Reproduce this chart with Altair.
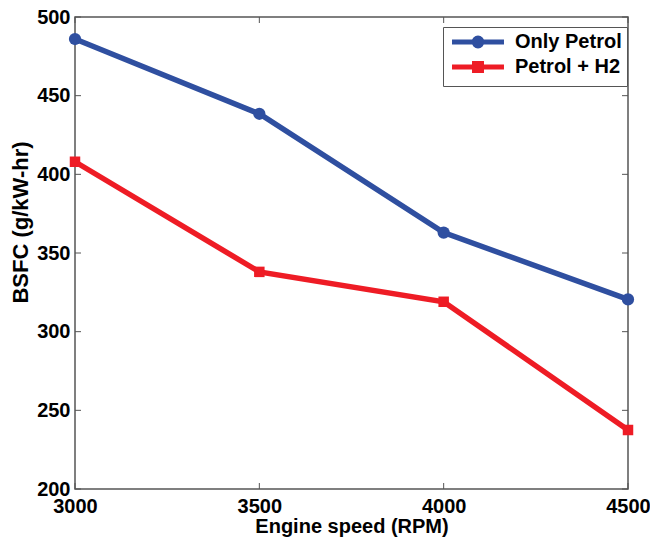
import altair as alt
import pandas as pd

rpm = [3000, 3500, 4000, 4500]
only_petrol = [486, 438.5, 363, 320.5]
petrol_h2 = [408, 338, 319, 237.5]
series_names = ["Only Petrol", "Petrol + H2"]
colors = ["#2f4fa0", "#ee1c25"]
marker_shapes = ["circle", "square"]
x_ticks = [3000, 3500, 4000, 4500]
y_ticks = [200, 250, 300, 350, 400, 450, 500]

n = len(rpm)
df = pd.DataFrame({
    "rpm": rpm * 2,
    "bsfc": only_petrol + petrol_h2,
    "series": [series_names[0]] * n + [series_names[1]] * n,
    "col": [colors[0]] * n + [colors[1]] * n,
    "shp": [marker_shapes[0]] * n + [marker_shapes[1]] * n,
    "sz": [150] * n + [110] * n,
})

W, H = 553, 472
PAD_L, PAD_T, PAD_R, PAD_B = 67, 9, 22, 50
FONT = "Liberation Sans"

xscale = alt.Scale(domain=[3000, 4500], nice=False, zero=False)
yscale = alt.Scale(domain=[200, 500], nice=False, zero=False)

x_axis = alt.Axis(values=x_ticks, format="d", labelFont=FONT, labelFontSize=20,
                  labelFontWeight="bold", labelColor="black", ticks=False, domain=False,
                  grid=False, labelPadding=7, labelFlush=False,
                  title="Engine speed (RPM)", titleFont=FONT, titleFontSize=20,
                  titleFontWeight="bold", titleColor="black", titlePadding=0)
y_axis = alt.Axis(values=y_ticks, format="d", labelFont=FONT, labelFontSize=20,
                  labelFontWeight="bold", labelColor="black", ticks=False, domain=False,
                  grid=False, labelPadding=5, labelFlush=False,
                  title="BSFC (g/kW-hr)", titleFont=FONT, titleFontSize=22,
                  titleFontWeight="bold", titleColor="black", titlePadding=4,
                  titleY=205)


def X(field="rpm"):
    return alt.X(f"{field}:Q", scale=xscale, axis=x_axis)


def Y(field="bsfc"):
    return alt.Y(f"{field}:Q", scale=yscale, axis=y_axis)


circle_path = "M-4.33,0L4.33,0M0.65,0A0.65,0.65,0,1,1,-0.65,0A0.65,0.65,0,1,1,0.65,0Z"
square_path = "M-4.33,0L4.33,0M-0.58,-0.58L0.58,-0.58L0.58,0.58L-0.58,0.58Z"

legend = alt.Legend(
    title=None, orient="none", legendX=368, legendY=10,
    labelFont=FONT, labelFontSize=20, labelFontWeight="bold", labelColor="black",
    symbolSize=144, symbolStrokeWidth=5, symbolOpacity=1,
    symbolOffset=20, labelOffset=27, rowPadding=-3,
    padding=5, strokeColor="#555", fillColor="white", cornerRadius=0,
    labelLimit=300,
)

lines = alt.Chart(df).mark_line(strokeWidth=5.5).encode(
    x=X(), y=Y(),
    color=alt.Color("col:N", scale=None),
    detail="series:N",
)

points = alt.Chart(df).mark_point(filled=True, opacity=1, strokeWidth=2).encode(
    x=X(), y=Y(),
    color=alt.Color("col:N", scale=None),
    shape=alt.Shape("shp:N", scale=None),
    size=alt.Size("sz:Q", scale=None),
)

legend_layer = alt.Chart(df).transform_filter("datum.rpm < 0").mark_point(
    filled=False, strokeWidth=5, opacity=1
).encode(
    color=alt.Color("series:N", scale=alt.Scale(domain=series_names, range=colors), legend=legend),
    shape=alt.Shape("series:N", scale=alt.Scale(domain=series_names, range=[circle_path, square_path]), legend=legend),
)

ydf = pd.DataFrame({"bsfc": y_ticks})
xdf = pd.DataFrame({"rpm": x_ticks})
tick_style = dict(color="#555", strokeWidth=1)
yticks_left = alt.Chart(ydf).mark_rule(**tick_style).encode(y=Y(), x=alt.value(0), x2=alt.value(6))
yticks_right = alt.Chart(ydf).mark_rule(**tick_style).encode(y=Y(), x=alt.value(W), x2=alt.value(W - 6))
xticks_bottom = alt.Chart(xdf).mark_rule(**tick_style).encode(x=X(), y=alt.value(H), y2=alt.value(H - 6))
xticks_top = alt.Chart(xdf).mark_rule(**tick_style).encode(x=X(), y=alt.value(0), y2=alt.value(6))

chart = alt.layer(
    yticks_left, yticks_right, xticks_bottom, xticks_top, lines, points, legend_layer
).properties(
    width=W, height=H,
    autosize=alt.AutoSizeParams(type="none"),
    padding={"left": PAD_L, "top": PAD_T, "right": PAD_R, "bottom": PAD_B},
    background="white",
).configure_view(stroke="#555", strokeWidth=1.5)

chart.save("out.html", embed_options={"renderer": "svg", "actions": False})
